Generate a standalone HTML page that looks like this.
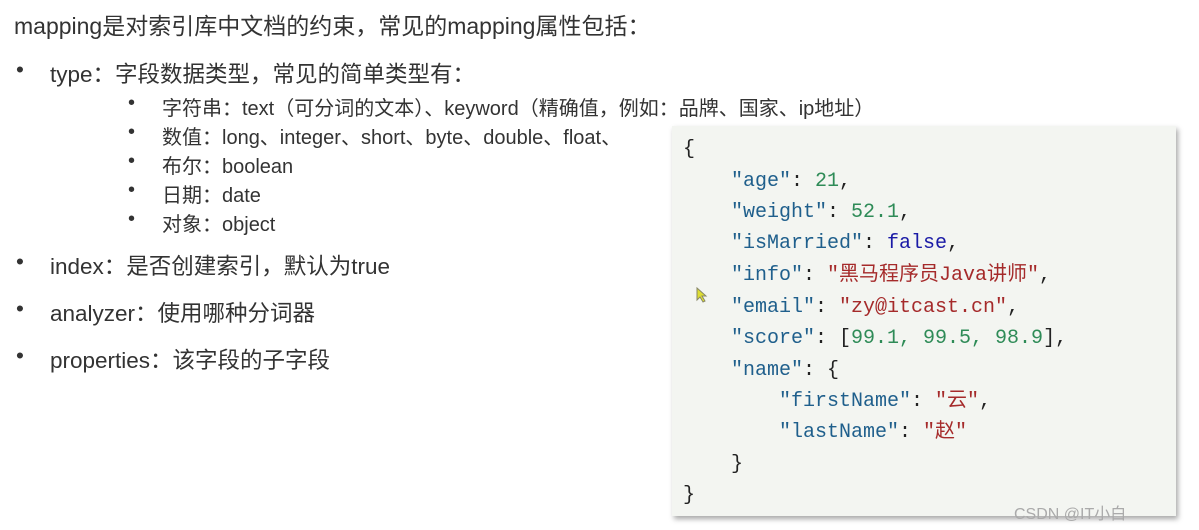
<!DOCTYPE html>
<html><head><meta charset="utf-8"><style>
body{margin:0;width:1199px;height:530px;background:#fff;position:relative;overflow:hidden;font-family:"Liberation Sans","Noto Sans CJK SC",sans-serif;color:#333}
.t{position:absolute;white-space:nowrap}
.box{position:absolute;left:672px;top:126px;width:504px;height:390px;background:#f3f5f1;box-shadow:2px 3px 5px rgba(0,0,0,.35)}
.c{position:absolute;font-family:"Liberation Mono","Noto Sans CJK SC",monospace;font-size:20px;white-space:pre;color:#222;line-height:24px}
.k{color:#1f5f8c}.n{color:#2e8b57}.s{color:#a52a2a}.f{color:#1a1aa6}
.m{font-size:22.5px}
.sb{font-size:20px}
</style></head><body>
<div class="t m" style="left:14px;top:7px;font-size:23px">mapping是对索引库中文档的约束，常见的mapping属性包括：</div>
<div class="t m" style="left:16px;top:57px">•</div>
<div class="t m" style="left:50px;top:57px">type：字段数据类型，常见的简单类型有：</div>
<div class="t sb" style="left:128px;top:92px">•</div><div class="t sb" style="left:162px;top:92px">字符串：text（可分词的文本）、keyword（精确值，例如：品牌、国家、ip地址）</div>
<div class="t sb" style="left:128px;top:121px">•</div><div class="t sb" style="left:162px;top:121px">数值：long、integer、short、byte、double、float、</div>
<div class="t sb" style="left:128px;top:150px">•</div><div class="t sb" style="left:162px;top:150px">布尔：boolean</div>
<div class="t sb" style="left:128px;top:179px">•</div><div class="t sb" style="left:162px;top:179px">日期：date</div>
<div class="t sb" style="left:128px;top:208px">•</div><div class="t sb" style="left:162px;top:208px">对象：object</div>
<div class="t m" style="left:16px;top:249px">•</div>
<div class="t m" style="left:50px;top:249px">index：是否创建索引，默认为true</div>
<div class="t m" style="left:16px;top:296px">•</div>
<div class="t m" style="left:50px;top:296px">analyzer：使用哪种分词器</div>
<div class="t m" style="left:16px;top:343px">•</div>
<div class="t m" style="left:50px;top:343px">properties：该字段的子字段</div>
<div class="box"></div>
<div class="c" style="left:683px;top:138px">{</div>
<div class="c" style="left:731px;top:170px"><span class="k">"age"</span>: <span class="n">21</span>,</div>
<div class="c" style="left:731px;top:201px"><span class="k">"weight"</span>: <span class="n">52.1</span>,</div>
<div class="c" style="left:731px;top:232px"><span class="k">"isMarried"</span>: <span class="f">false</span>,</div>
<div class="c" style="left:731px;top:264px"><span class="k">"info"</span>: <span class="s">"黑马程序员Java讲师"</span>,</div>
<div class="c" style="left:731px;top:296px"><span class="k">"email"</span>: <span class="s">"zy@itcast.cn"</span>,</div>
<div class="c" style="left:731px;top:327px"><span class="k">"score"</span>: [<span class="n">99.1, 99.5, 98.9</span>],</div>
<div class="c" style="left:731px;top:359px"><span class="k">"name"</span>: {</div>
<div class="c" style="left:779px;top:390px"><span class="k">"firstName"</span>: <span class="s">"云"</span>,</div>
<div class="c" style="left:779px;top:421px"><span class="k">"lastName"</span>: <span class="s">"赵"</span></div>
<div class="c" style="left:731px;top:453px">}</div>
<div class="c" style="left:683px;top:484px">}</div>
<svg style="position:absolute;left:696px;top:287px" width="12" height="16"><path d="M1 1 L1 13 L4 10 L7 15 L9 14 L6 9 L10 9 Z" fill="#dd3" stroke="#886" stroke-width="1"/></svg>
<div class="t" style="left:1014px;top:500px;font-size:16px;color:#aaa">CSDN @IT小白</div>
</body></html>
